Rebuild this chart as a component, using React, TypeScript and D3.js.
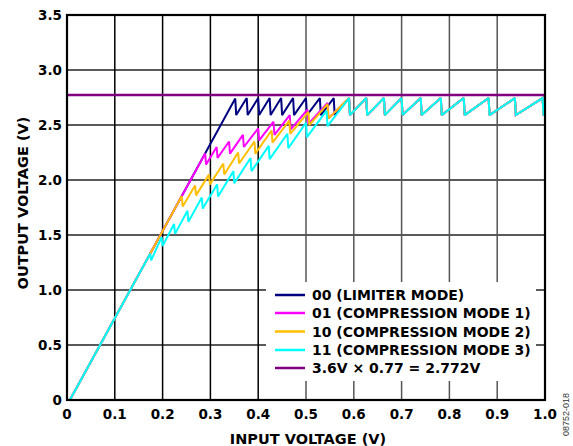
import React from "react";
import * as d3 from "d3";

const W = 573;
const H = 446;

const xTickValues = [0, 0.1, 0.2, 0.3, 0.4, 0.5, 0.6, 0.7, 0.8, 0.9, 1.0];
const xTickLabels = ["0", "0.1", "0.2", "0.3", "0.4", "0.5", "0.6", "0.7", "0.8", "0.9", "1.0"];
const yTickValues = [0, 0.5, 1.0, 1.5, 2.0, 2.5, 3.0, 3.5];
const yTickLabels = ["0", "0.5", "1.0", "1.5", "2.0", "2.5", "3.0", "3.5"];

const originPoint: [number, number] = [0.006, 0];

// 00 limiter mode
const limiterPeakX = [0.352, 0.376, 0.4, 0.424, 0.448, 0.473, 0.5, 0.529, 0.558];
const limiterPeakY = [2.74, 2.745, 2.745, 2.745, 2.745, 2.745, 2.745, 2.745, 2.745];
const limiterValleyY = [2.59, 2.59, 2.59, 2.59, 2.59, 2.59, 2.59, 2.59, 2.59];

// 01 compression mode 1
const mode1PeakX = [0.289, 0.313, 0.339, 0.368, 0.4, 0.432, 0.466, 0.503, 0.545];
const mode1PeakY = [2.241, 2.3, 2.35, 2.41, 2.47, 2.53, 2.59, 2.64, 2.7];
const mode1ValleyY = [2.14, 2.2, 2.24, 2.3, 2.36, 2.41, 2.46, 2.51, 2.56];

// 10 compression mode 2
const mode2PeakX = [0.24, 0.268, 0.297, 0.327, 0.358, 0.392, 0.428, 0.465, 0.505, 0.545];
const mode2PeakY = [1.853, 1.95, 2.05, 2.15, 2.25, 2.35, 2.45, 2.54, 2.62, 2.69];
const mode2ValleyY = [1.76, 1.86, 1.96, 2.05, 2.15, 2.24, 2.34, 2.42, 2.5, 2.56];

// 11 compression mode 3
const mode3PeakX = [0.174, 0.198, 0.224, 0.252, 0.282, 0.314, 0.348, 0.384, 0.422, 0.461, 0.5, 0.543];
const mode3PeakY = [1.33, 1.48, 1.6, 1.72, 1.84, 1.96, 2.08, 2.2, 2.31, 2.42, 2.52, 2.63];
const mode3ValleyY = [1.27, 1.4, 1.51, 1.62, 1.74, 1.85, 1.97, 2.08, 2.19, 2.29, 2.39, 2.49];

// common settled region (all modes)
const commonPeakX = [0.59, 0.626, 0.663, 0.7, 0.74, 0.782, 0.83, 0.882, 0.937, 0.995];
const commonPeakY = [2.745, 2.745, 2.745, 2.745, 2.745, 2.745, 2.745, 2.745, 2.745, 2.745];
const commonValleyY = [2.59, 2.59, 2.59, 2.59, 2.59, 2.59, 2.59, 2.59, 2.59, 2.59];
const endPoint: [number, number] = [1.0, 2.6];

const limitValue = 2.772;

const legendLabels = [
  "00 (LIMITER MODE)",
  "01 (COMPRESSION MODE 1)",
  "10 (COMPRESSION MODE 2)",
  "11 (COMPRESSION MODE 3)",
  "3.6V × 0.77 = 2.772V",
];
const legendColors = ["#000080", "#ff00ff", "#ffbf00", "#00ffff", "#800080"];

function buildSeries(px: number[], py: number[], vy: number[]): [number, number][] {
  const pts: [number, number][] = [originPoint];
  px.forEach((x, i) => {
    pts.push([x, py[i]]);
    pts.push([x + 0.002, vy[i]]);
  });
  commonPeakX.forEach((x, i) => {
    pts.push([x, commonPeakY[i]]);
    pts.push([x + 0.002, commonValleyY[i]]);
  });
  pts.push(endPoint);
  return pts;
}

export default function App() {
  const x = d3.scaleLinear().domain([0, 1]).range([67, 545]);
  const y = d3.scaleLinear().domain([0, 3.5]).range([400, 15]);
  const line = d3
    .line<[number, number]>()
    .x((d) => x(d[0]))
    .y((d) => y(d[1]));

  const series = [
    buildSeries(limiterPeakX, limiterPeakY, limiterValleyY),
    buildSeries(mode1PeakX, mode1PeakY, mode1ValleyY),
    buildSeries(mode2PeakX, mode2PeakY, mode2ValleyY),
    buildSeries(mode3PeakX, mode3PeakY, mode3ValleyY),
  ];

  const font = "'DejaVu Sans', 'Liberation Sans', Arial, sans-serif";
  const legendX = 266;
  const legendY = 282;
  const rowY = [295, 313, 331.5, 350, 368];

  return (
    <svg
      width={W}
      height={H}
      style={{ position: "absolute", left: 0, top: 0, background: "#fff" }}
      fontFamily={font}
    >
      <rect x={0} y={0} width={W} height={H} fill="#fff" />
      {yTickValues.slice(1, -1).map((v) => (
        <line key={"h" + v} x1={x(0)} x2={x(1)} y1={y(v)} y2={y(v)} stroke="#222" strokeWidth={1.5} />
      ))}
      {xTickValues.slice(1, -1).map((v) => (
        <line
          key={"v" + v}
          x1={x(v)}
          x2={x(v)}
          y1={y(0)}
          y2={y(3.5)}
          stroke={v < 0.45 ? "#000" : "#555"}
          strokeWidth={1.5}
        />
      ))}
      {series.map((s, i) => (
        <path
          key={"s" + i}
          d={line(s) || ""}
          fill="none"
          stroke={legendColors[i]}
          strokeWidth={2}
          strokeLinejoin="miter"
          strokeMiterlimit={2}
        />
      ))}
      <line x1={x(0)} x2={x(1)} y1={y(limitValue)} y2={y(limitValue)} stroke="#800080" strokeWidth={2.5} />
      <rect x={legendX} y={legendY} width={536 - legendX} height={381 - legendY} fill="#fff" />
      {legendLabels.map((t, i) => (
        <g key={"l" + i}>
          <line x1={275} x2={305} y1={rowY[i]} y2={rowY[i]} stroke={legendColors[i]} strokeWidth={2.5} />
          <text x={312} y={rowY[i] + 5} fontSize={14} fontWeight="bold" fill="#000">
            {t}
          </text>
        </g>
      ))}
      <rect x={x(0)} y={y(3.5)} width={x(1) - x(0)} height={y(0) - y(3.5)} fill="none" stroke="#000" strokeWidth={2.2} />
      {yTickValues.map((v, i) => (
        <text key={"yl" + v} x={62} y={y(v) + 4.8} textAnchor="end" fontSize={13.5} fontWeight="bold">
          {yTickLabels[i]}
        </text>
      ))}
      {xTickValues.map((v, i) => (
        <text key={"xl" + v} x={x(v)} y={419} textAnchor="middle" fontSize={13.5} fontWeight="bold">
          {xTickLabels[i]}
        </text>
      ))}
      <text x={308} y={444} textAnchor="middle" fontSize={14.5} fontWeight="bold">
        INPUT VOLTAGE (V)
      </text>
      <text transform={`translate(28,203) rotate(-90)`} textAnchor="middle" fontSize={14.5} fontWeight="bold">
        OUTPUT VOLTAGE (V)
      </text>
      <text
        transform={`translate(569,393) rotate(-90)`}
        textAnchor="end"
        fontSize={9}
        fill="#333"
        fontFamily="'Liberation Sans', Arial, sans-serif"
      >
        08752-018
      </text>
    </svg>
  );
}
